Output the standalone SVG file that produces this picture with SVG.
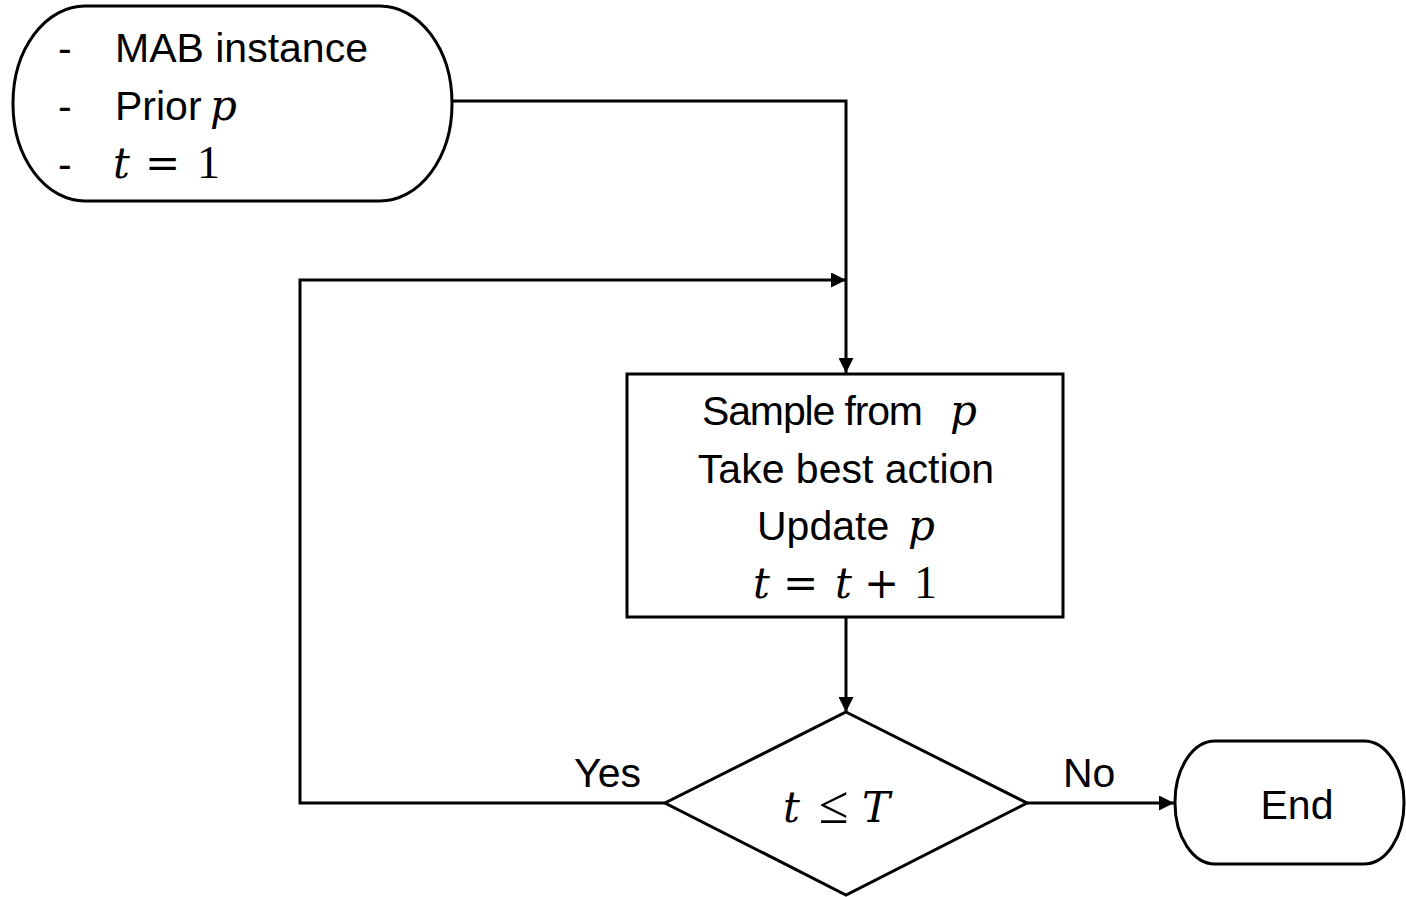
<svg xmlns="http://www.w3.org/2000/svg" width="1406" height="897" viewBox="0 0 1406 897">
  <style>
    .shape { fill: #ffffff; stroke: #000000; stroke-width: 3; }
    .wire { fill: none; stroke: #000000; stroke-width: 3; }
    .txt { font-family: "Liberation Sans", "Open Sans", sans-serif; font-size: 41px; fill: #000000; }
    .math { font-family: "DejaVu Serif", "Liberation Serif", serif; font-size: 42px; fill: #000000; }
    .num { font-family: "Liberation Serif", "DejaVu Serif", serif; font-size: 46px; fill: #000000; }
    .rel { font-family: "Liberation Serif", "DejaVu Serif", serif; font-size: 54px; fill: #000000; }
    .it { font-style: italic; }
  </style>
  <defs>
    <marker id="arrow" viewBox="0 0 10 10" refX="10" refY="5" markerWidth="5" markerHeight="5" orient="auto" markerUnits="strokeWidth">
      <path d="M0,0 L10,5 L0,10 z" fill="#000000"/>
    </marker>
  </defs>

  <g id="connectors">
    <path class="wire" d="M452,101 H846 V373" marker-end="url(#arrow)"/>
    <path class="wire" d="M665,803 H300 V280 H846" marker-end="url(#arrow)"/>
    <path class="wire" d="M846,617 V712" marker-end="url(#arrow)"/>
    <path class="wire" d="M1027,803 H1174" marker-end="url(#arrow)"/>
    <text class="txt" x="641" y="787" text-anchor="end">Yes</text>
    <text class="txt" x="1063" y="787">No</text>
  </g>

  <g id="start">
    <rect class="shape" x="13" y="6" width="439" height="195" rx="72" ry="97"/>
    <text class="txt" x="58" y="62">-</text>
    <text class="txt" x="115" y="62">MAB instance</text>
    <text class="txt" x="58" y="120">-</text>
    <text class="txt" x="115" y="120">Prior</text>
    <text class="math it" x="210" y="120">p</text>
    <text class="txt" x="58" y="178">-</text>
    <text class="math it" x="113" y="178">t</text>
    <text class="math" x="145" y="178">=</text>
    <text class="num" x="197" y="178">1</text>
  </g>

  <g id="process">
    <rect class="shape" x="627" y="374" width="436" height="243"/>
    <text class="txt" x="702" y="425" textLength="221">Sample from</text>
    <text class="math it" x="950" y="425">p</text>
    <text class="txt" x="846" y="483" text-anchor="middle">Take best action</text>
    <text class="txt" x="757" y="540">Update</text>
    <text class="math it" x="908" y="540">p</text>
    <text class="math it" x="753" y="598">t</text>
    <text class="math" x="783" y="598">=</text>
    <text class="math it" x="835" y="598">t</text>
    <text class="math" x="864" y="598">+</text>
    <text class="num" x="914" y="598">1</text>
  </g>

  <g id="decision">
    <polygon class="shape" points="846,712 1027,803 846,895 665,803"/>
    <text class="math it" x="783" y="822">t</text>
    <text class="rel" x="819" y="823">≤</text>
    <text class="math it" x="862" y="822">T</text>
  </g>

  <g id="end">
    <rect class="shape" x="1175" y="741" width="229" height="123" rx="40" ry="61"/>
    <text class="txt" x="1297" y="819" text-anchor="middle">End</text>
  </g>
</svg>
